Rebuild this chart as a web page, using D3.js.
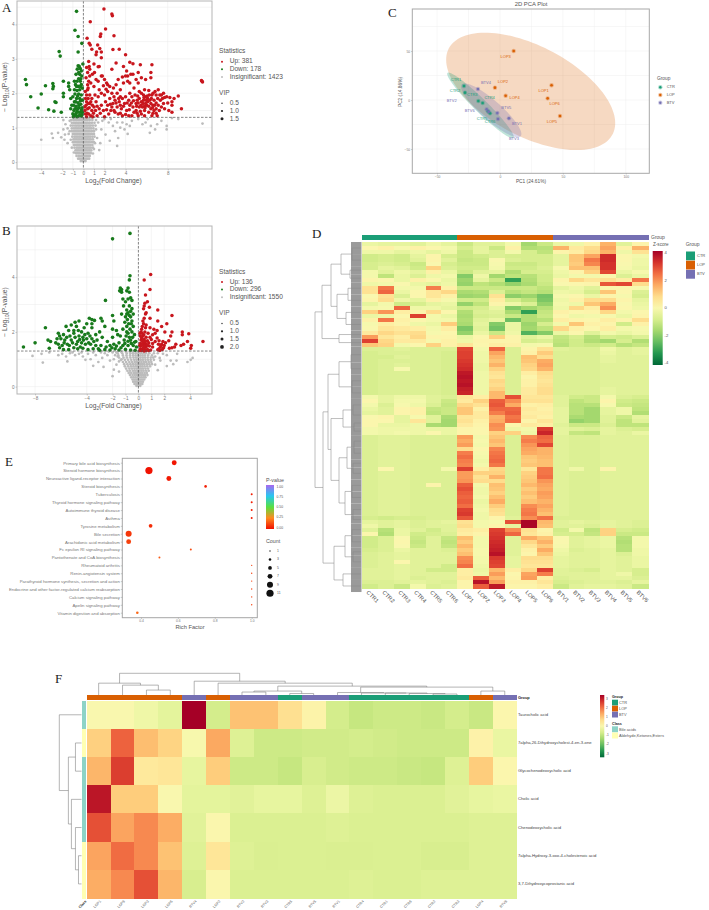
<!DOCTYPE html>
<html>
<head>
<meta charset="utf-8">
<script src="https://cdn.jsdelivr.net/npm/d3@7"></script>
<style>
  html, body { margin: 0; padding: 0; background: #fff; }
  svg { display: block; font-family: "Liberation Sans", Arial, sans-serif; }
  .letter { font-family: "Liberation Serif", serif; font-size: 13px; fill: #222; }
</style>
</head>
<body>
<div id="chart"></div>
<script>
// Panel A, volcano points [log2FC, -log10 p]
const upA = [[1.95,4.45],[2.7,4.3],[2.75,4.25],[.65,4.08],[2.1,3.87],[1.65,3.72],[1.6,3.65],[.35,3.6],[2.9,3.67],[.55,3.45],[.65,3.4],[1.35,3.4],[1.55,3.3],[1.7,3.2],[1.25,3.2],[.8,3.28],[2.8,3.27],[3.4,3.28],[4,3.12],[1.2,3.12],[1.7,3.03],
[3.1,2.88],[.5,2.92],[1,2.85],[.55,2.78],[1.4,2.77],[1.5,2.78],[2.7,2.7],[.6,2.7],[3.8,2.78],[4.4,2.9],[4.7,2.86],[5.4,2.83],[6.5,2.83],[4.1,2.65],[4.7,2.55],[4.5,2.55],[6.4,2.6],[5.2,2.6],[5.5,2.45],[5.9,2.4],[6.4,2.45],[4,2.5],[4.2,2.5],[3.7,2.47],[4.2,2.35],[4.4,2.3],[5,2.4],[5.2,2.3],[.4,2.6],[.6,2.5],[.5,2.35],[.85,2.55],[1.2,2.4],[1.7,2.5],[1.8,2.5],[2,2.4],[2.2,2.3],[2.5,2.2],[2.3,2.25],[.4,2.25],[.7,2.3],[1,2.2],[1.4,2.35],[3.1,2.25],[3.5,2.1],[3.8,2.3],[4.4,2],[4.8,2.15],[5.3,2.05],[5.8,2.1],[6.2,2.08],[6.6,2],[6.9,1.95],[7.1,2.1],[7.4,1.95],[7.6,2],[7.9,1.9],[8.2,1.88],[8.6,1.85],[9,1.92],[8.4,1.75],[8.4,1.65],[9.3,1.55],[8.4,1.45],[8.1,1.5],[7.6,1.7],[7.4,1.6],[7.2,1.5],[6.9,1.55],[6.9,1.42],[7,1.35],[6.6,1.65],[6.4,1.55],[6.3,1.8],[6.1,1.85],[5.9,1.9],[5.7,1.8],[5.5,1.75],[5.3,1.85],[5.1,1.8],[5,1.7],[5.3,1.6],[5.6,1.6],[5.8,1.5],[6,1.65],[6.2,1.45],[6.5,1.35],[5.5,1.4],[5.2,1.35],[5,1.5],[4.7,1.6],[4.4,1.65],[4.1,1.5],[4.3,1.35],[3.9,1.7],[3.6,1.55],[3.4,1.75],[3.2,1.6],[3,1.8],[2.9,1.5],[2.7,1.6],[2.5,1.85],[2.3,1.65],[2.1,1.75],[1.9,1.5],[1.7,1.65],[1.5,1.55],[1.2,1.75],[1,1.6],[.8,1.5],[.6,1.7],[.4,1.55],[.3,1.75],[.2,1.4],[.5,1.4],[.7,1.35],[.3,1.95],[.6,1.95],[.8,1.85],[1.1,1.95],[1.4,1.9],[1.7,2],[2,1.95],[2.3,2.05],[2.7,2],[2.9,1.9],[3.2,2],[3.5,1.9],[3.7,1.85],[4,1.9],[4.3,1.8],[4.6,1.9],[3,1.45],[3.3,1.4],[3.7,1.35],[2.4,1.4],[1.3,1.35],[2,1.32],[4.6,1.35],[3.5,1.65],[2.8,1.7],[2.6,1.5],[4.8,1.45],[5.9,1.7],[6.7,1.8],[6.5,1.95],[7.3,1.8],[5.5,2],[4.9,1.95],[5.7,1.95],[6.1,1.75],[6.4,1.7],[5.8,1.62],[5.2,1.72],[6.9,1.72],[7.1,1.65],[6.7,1.5],[.3,1.32],[.15,1.6],[.2,1.85],[.9,1.32],[.45,1.7],[11.2,2.37],[11.3,2.33],[11.25,2.35]];
const upA2 = [[.15,1.5],[.25,1.65],[.35,1.42],[.45,1.85],[.55,1.58],[.7,1.75],[.85,1.65],[.95,1.42],[1.15,1.5],[1.3,1.62],[.18,2.05],[.4,2.1],[.25,2.45],[.3,2.75],[.45,2.15],[1.05,2.6],[1.5,2.1],[1.9,2.22],[2.15,2.12],[2.55,1.68],[2.85,2.15],[3.3,2.4],[3.35,1.85],[3.8,1.62],[4.15,1.72],[4.35,1.52],[4.55,1.72],[4.75,1.78],[5.05,1.62],[5.15,1.92],[5.45,1.65],[5.65,1.7],[5.75,1.88],[5.85,1.58],[5.95,1.8],[6.05,1.92],[6.2,1.62],[6.25,1.95],[6.45,1.85],[6.55,1.58],[6.6,1.42],[6.75,1.65],[6.8,2.05],[7.05,1.85],[7.25,1.95],[7.5,1.85],[7.7,1.88],[2.2,1.52],[1.6,1.42],[3.1,1.72],[3.5,1.42],[4,1.38],[5.8,1.35],[5.1,1.42],[5.4,1.48],[7.7,1.55],[8,1.72]];
const downA = [[-.65,4.38],[-.8,3.83],[-.5,3.65],[-.15,3.45],[-2.3,3.21],[-2.2,3.08],[-.5,3.2],[-.05,2.85],[-.5,2.8],[-.4,2.78],[-.3,2.72],[-.2,2.65],[-.35,2.55],[-.15,2.5],[-.45,2.42],[-.6,2.35],[-.3,2.35],[-.75,2.25],[-.5,2.2],[-.2,2.25],[-.85,2.1],[-.6,2.08],[-.35,2.1],[-.1,2.15],[-.8,1.98],[-.45,1.98],[-.2,1.95],[-1,1.9],[-.65,1.85],[-.35,1.85],[-.1,1.8],[-.85,1.75],[-.5,1.72],[-.25,1.68],[-1.1,1.65],[-.7,1.62],[-.4,1.58],[-.12,1.58],[-1.2,1.55],[-.9,1.5],[-.6,1.48],[-.3,1.45],[-.08,1.45],[-1,1.4],[-.75,1.36],[-.5,1.34],[-.2,1.34],[-.95,1.32],[-.35,1.36],[-.6,1.32],
[-5.5,2.4],[-5.4,2.25],[-5,1.9],[-4,1.98],[-3.6,2.22],[-2.9,2.28],[-2.85,2.2],[-2.9,2.13],[-4.3,1.57],[-3.3,1.52],[-2.7,1.75],[-2.6,1.73],[-2.8,1.48],[-2.1,1.45],[-1.9,1.9],[-1.9,2],[-1.9,2.35],[-1.4,2.3],[-1.4,2.2],[-1.2,1.85],[-1.3,2.1],[-.85,2.35],[-.7,2.55],[-.95,1.65],[-.55,1.55],[-.7,1.42],[-.42,1.45],[-.18,1.52],[-.8,1.55],[-.28,1.78],[-.55,1.92],[-.72,1.75],[-.42,1.65],[-.12,1.38],[-.65,2.2],[-.3,2.2],[-.45,2.6],[-.58,2.7],[-.25,2.42]];
const greyA = [[-4,.65],[-3,.83],[-2.4,.85],[-2.9,.7],[-2.1,.72],[-1.9,.95],[-1.8,.65],[-1.7,1.1],[-1.5,.55],[-1.9,1.22],[-1.4,.82],[-1.3,1.2],[-1.5,.98],[-1.75,.8],[1.4,1.15],[1.7,.95],[1.8,1.2],[2.1,.8],[2,1.25],[2.4,1.15],[2.8,1.05],[3,.9],[3.2,1.15],[3.3,.7],[3.5,1],[3.7,1.15],[3.9,.95],[4.1,1.1],[4.4,1.05],[4.6,1.2],[4.2,.82],[3.2,.47],[2.5,.62],[1.6,.55],[1.5,.35],[5.2,1.25],[5.6,1.1],[5.9,1.15],[6.1,1.25],[6.4,1.05],[6.3,.85],[6.8,.95],[7,1.1],[7.4,1.2],[7.9,1.05],[7.9,.95],[8.4,1.28],[9,1.25],[11.3,1.12],[2.6,1.25],[1.2,.95],[1.3,.7],[1.1,.55],[-1.2,.65],[-1.3,.9],[-1.1,.42],[1,.38],[.9,.25],[-.9,.28]];
const greyRowsA = [[.03,-.25,-.1,.05,.2],[.1,-.5,-.35,-.2,-.05,.1,.25,.4,.55],[.18,-.65,-.45,-.3,-.15,0,.15,.3,.45,.6],[.26,-.7,-.55,-.4,-.2,-.05,.1,.25,.4,.55,.7],[.34,-.75,-.6,-.45,-.3,-.15,0,.15,.3,.45,.6,.75],[.42,-.85,-.65,-.5,-.35,-.2,-.05,.1,.25,.4,.55,.7,.9],[.5,-.9,-.7,-.55,-.4,-.25,-.1,.05,.2,.35,.5,.65,.85],[.58,-1,-.8,-.6,-.45,-.3,-.15,0,.15,.3,.45,.6,.8,1],[.66,-.95,-.8,-.65,-.5,-.35,-.2,-.05,.1,.25,.4,.55,.7,.9],[.74,-1.05,-.85,-.7,-.55,-.4,-.25,-.1,.05,.2,.35,.5,.65,.85,1.05],[.82,-1,-.85,-.7,-.55,-.4,-.25,-.1,.05,.2,.35,.5,.65,.8,1],[.9,-1.1,-.9,-.75,-.6,-.45,-.3,-.15,0,.15,.3,.45,.6,.8,1],[.98,-1.1,-.9,-.75,-.6,-.45,-.3,-.15,0,.15,.3,.45,.6,.75,.95],[1.06,-1.2,-1,-.8,-.65,-.5,-.35,-.2,-.05,.1,.25,.4,.55,.7,.9,1.15],[1.14,-1.1,-.9,-.75,-.6,-.45,-.3,-.15,0,.15,.3,.45,.6,.8,1.05],[1.22,-1.15,-.95,-.8,-.65,-.5,-.35,-.2,-.05,.1,.25,.4,.6,.85,1.2],[1.28,-.95,-.75,-.6,-.45,-.3,-.15,0,.15,.35,.55,.8]];

// Panel B, volcano points
const upB = [[.95,4.1],[.45,3.9],[.9,3.55],[.55,3.35],[.7,3.1],[.5,3.05],[.45,2.95],[.4,2.85],[.85,2.9],[1.5,2.8],[.6,2.7],[.55,2.65],[2.6,2.6],[.45,2.5],[.9,2.5],[1.5,2.4],[1.8,2.2],[2.2,2.3],[.4,2.3],[.3,2.2],[.6,2.25],[.25,2.1],[.9,2.15],[1.2,2.1],[1.45,2.05],[2.05,2],[.2,2],[.5,2],[.75,1.95],[1.1,1.9],[1.3,1.95],[2.6,2],[2.5,1.85],[3.4,2],[3.4,1.9],[3.9,1.93],[.15,1.85],[.35,1.85],[.6,1.8],[.9,1.8],[.2,1.7],[.45,1.72],[.7,1.68],[1,1.72],[1.3,1.65],[1.6,1.68],[1.9,1.65],[2.35,1.68],[2.1,1.6],[5,1.65],[3.8,1.65],[4.1,1.5],[4.05,1.4],[3.5,1.55],[3.3,1.5],[2.9,1.55],[2.4,1.4],[2.6,1.42],[2.8,1.45],[.15,1.58],[.35,1.6],[.55,1.58],[.8,1.6],[1.1,1.58],[1.55,1.55],[1.8,1.55],[2,1.5],[.2,1.48],[.4,1.5],[.6,1.46],[.85,1.48],[1.1,1.45],[1.7,1.45],[1.95,1.42],[1.6,1.38],[1.85,1.36],[.15,1.38],[.3,1.36],[.5,1.36],[.7,1.36],[.95,1.34],[1.65,1.32],[.25,1.32],[.6,1.32],[.4,1.42],[.12,1.95],[.28,1.95],[.42,1.9],[.25,1.78],[.3,1.68],[.5,1.65],[.1,1.5],[.25,1.52],[.5,1.5],[.7,1.52],[.45,1.3],[.1,1.32],[.8,1.32],[.35,2.4],[.55,2.15],[1.45,1.78],[1.5,1.35],[1.75,1.5]];
const downB = [[-.65,5.6],[-2,5.4],[-.65,4.05],[-.7,3.9],[-.8,3.6],[-1.3,3.55],[-1.4,3.6],[-1.45,3.5],[-1.3,3.45],[-2.55,3.15],[-.9,3.5],[-.7,3.45],[-.6,3.25],[-.8,3.2],[-1,3.1],[-1.2,3.2],[-.5,3.15],[-1.15,2.95],[-.7,2.95],[-2,2.6],[-.5,2.85],[-.9,2.8],[-.6,2.75],[-.8,2.7],[-.4,2.65],[-.7,2.6],[-1,2.55],[-1.3,2.65],[-1.9,2.4],[-2.9,2.5],[-2.8,2.4],[-.85,2.45],[-.5,2.4],[-1.05,2.35],[-3.8,2.5],[-3.6,2.45],[-3.4,2.42],[-4.6,2.4],[-4.9,2.35],[-5.2,2.25],[-4,2.3],[-3.6,2.3],[-.9,2.2],[-.4,2.2],[-1.2,2.1],[-2,2.1],[-2.6,2.2],[-3,2],[-3.6,2.15],[-4.2,2.15],[-4.8,2.2],[-5.6,2.2],[-5.4,2.05],[-7.2,2.15],[-6.2,1.95],[-5.8,1.9],[-5,2.05],[-4.4,2],[-3.9,1.95],[-3.3,1.9],[-2.8,1.8],[-1.6,1.9],[-1.4,1.85],[-.8,1.95],[-.3,1.9],[-8,1.6],[-8.9,1.45],[-7,1.7],[-6.8,1.65],[-6.9,1.4],[-6.4,1.6],[-6,1.75],[-6.1,1.85],[-5.7,1.7],[-5.3,1.85],[-4.9,1.8],[-4.6,1.85],[-4.3,1.8],[-4,1.75],[-3.6,1.75],[-3.2,1.7],[-2.4,1.65],[-2,1.8],[-1.1,1.7],[-.6,1.7],[-.2,1.65],[-6.2,1.55],[-5.9,1.5],[-5.5,1.55],[-5.1,1.6],[-4.7,1.65],[-4.4,1.6],[-4.1,1.55],[-3.7,1.55],[-3.3,1.5],[-2.9,1.5],[-2.5,1.45],[-2.2,1.5],[-1.9,1.55],[-1.5,1.6],[-1.2,1.5],[-.8,1.5],[-.4,1.5],[-.15,1.45],[-5.8,1.35],[-5.4,1.35],[-5,1.42],[-4.7,1.38],[-4.3,1.4],[-3.9,1.35],[-3.5,1.38],[-3,1.33],[-2.6,1.35],[-2.2,1.34],[-1.8,1.38],[-1.5,1.34],[-1,1.36],[-.6,1.34],[-.25,1.33],[-6.1,1.42],[-3.1,1.38],[-1.35,1.42],[-.8,1.66],[-.5,2],[-5.55,1.8],[-5.2,1.7],[-5,1.95],[-4.8,1.55],[-4.55,1.72],[-4.65,2.05],[-4.25,1.7],[-4.15,1.9],[-3.85,1.6],[-3.75,1.85],[-3.45,1.65],[-5.35,1.5],[-5.75,1.6],[-6.3,1.75],[-4.5,1.45],[-2.05,1.42],[-1.7,1.48],[-1.05,1.58],[-.95,1.85],[-.7,1.8],[-.45,1.8],[-.55,1.58],[-.3,1.62],[-.9,2],[-.65,2.1],[-.55,2.3],[-.75,2.3],[-1.7,2.05],[-.6,2.55],[-.9,2.65]];
const greyB = [[-8.2,1.12],[-7.4,.88],[-7.5,1.2],[-6.9,1.25],[-6.2,1.15],[-5.9,1.2],[-5.6,1.1],[-5.5,.92],[-5.1,1.25],[-4.6,1.2],[-4.3,1.1],[-4.1,.98],[-3.9,1.2],[-3.7,1],[-3.5,.76],[-3.3,1.15],[-3.1,.9],[-2.9,1.25],[-2.8,1.05],[-2.7,.72],[-2.4,1.15],[-2.2,.95],[-2,.38],[-1.9,.62],[-1.8,1.15],[-1.7,.8],[-1.5,.55],[-1.3,1],[-1.5,.92],[-2,1.25],[1.3,.8],[1.5,.6],[1.7,.95],[1.9,1.2],[2.2,.75],[2.5,.95],[2.7,.82],[2.95,.95],[3,1.2],[3.8,.9],[4.05,.98],[4.2,1.05],[1.3,1.1],[2.2,1.15],[-5.3,1.22],[-4.9,1.15],[-4.4,1.25],[-3.5,1.25],[-2.6,1.22],[-2.3,1.28],[-1.9,1],[-1.7,1.25],[1.5,1.22],[1.65,1.05],[-1.6,1.1]];
const greyRowsB = [[.03,-.15,0,.15],[.1,-.3,-.15,0,.15,.3],[.18,-.4,-.25,-.1,.05,.2,.35],[.26,-.45,-.3,-.15,0,.15,.3,.45],[.34,-.55,-.38,-.22,-.06,.1,.26,.42,.55],[.42,-.65,-.45,-.28,-.12,.04,.2,.36,.52,.7],[.5,-.75,-.55,-.35,-.18,-.02,.14,.3,.48,.65],[.58,-.85,-.65,-.42,-.25,-.08,.08,.24,.4,.6,.8],[.66,-.95,-.7,-.5,-.3,-.12,.04,.2,.36,.55,.75],[.74,-1.05,-.8,-.58,-.38,-.2,-.03,.14,.3,.48,.68,.9],[.82,-1.1,-.85,-.62,-.42,-.22,-.05,.12,.28,.45,.65,.85,1.05],[.9,-1.2,-.95,-.7,-.48,-.28,-.1,.07,.24,.42,.6,.8,1],[.98,-1.35,-1.05,-.8,-.55,-.32,-.15,.02,.18,.35,.55,.75,.95,1.2],[1.06,-1.5,-1.15,-.88,-.62,-.38,-.18,0,.17,.35,.52,.72,.95,1.15],[1.14,-1.55,-1.2,-.92,-.65,-.42,-.22,-.03,.15,.32,.5,.75,1.05],[1.22,-1.6,-1.25,-.9,-.62,-.4,-.2,0,.2,.4,.6,.85,1.2],[1.28,-1.35,-.98,-.68,-.45,-.22,0,.18,.38,.58,.82]];

// Panel C, PCA scores
const pcaSamples = ["LOP1","LOP2","LOP3","LOP4","LOP5","LOP6","CTR1","CTR2","CTR3","CTR4","CTR5","CTR6","BTV1","BTV2","BTV3","BTV4","BTV5","BTV6"];
const pc1 = [41,-4,10.9,4.5,47.7,37.9,-28.6,-27.8,-17.2,-13.8,-7.9,-9.5,7.1,-10.6,-1.6,-17.5,-2.1,-9];
const pc2 = [15,12.6,50,4.4,-16.3,1.7,14.3,7.5,-1,-3,-13.6,-11.5,-18.7,-9.5,-19.4,11.2,-13.3,-12];
// [cx, cy, sdx, sdy, rho]
const ellipseLOP = [24.4,8.8,67.2,59.9,-.54];
const ellipseCTR = [-15.5,-5.5,26.5,33.5,-.96];
const ellipseBTV = [-7,-10.5,24,27.5,-.88];
const pcaGroups = ["CTR","LOP","BTV"];
const groupColors = ["#1b9e77","#d95f02","#7570b3"];

// Panel D, z-scores: CTR1-6, LOP1-6, BTV1-6
const heatSamples = ["CTR1","CTR2","CTR3","CTR4","CTR5","CTR6","LOP1","LOP2","LOP3","LOP4","LOP5","LOP6","BTV1","BTV2","BTV3","BTV4","BTV5","BTV6"];
const heatRows = [
[-.4,-.5,-.5,-.6,-.3,-.5,-1,-.6,-.6,-.2,-1.6,-1,-.4,-.3,.3,1.5,-.6,.2],
[.1,.3,-.1,.3,.1,-.2,-.8,-.5,-1,.3,-1.4,-1.3,1.5,.5,.8,1.7,.3,1.5],
[-.3,-.3,-.5,-.3,-.5,-.3,-1,-.5,-.7,-.2,-.8,-1.2,.2,.4,.9,1.5,-.3,.7],
[-.9,-.8,-.9,-.5,.2,-.8,-1,-.9,-.7,-.8,-.8,-.8,-.5,1.2,1.7,3.3,.1,-.2],
[-.9,-.8,-.9,-.6,.2,-.6,-1.1,-1,0,-.7,-.8,-.8,-.5,1.2,2.3,3.3,.1,-.3],
[-.8,-.7,-.8,-1,0,-.8,-1,-1,-.1,-1,-1,-.8,-.5,1.1,2.1,3.2,0,-.3],
[-.8,-.5,-.6,-.9,1,-.7,-.9,-.9,-.2,-.9,-.9,-.7,-.1,1.3,1.3,3.2,-.1,-.4],
[-.2,-.6,-.3,-.5,.3,-.4,-1,-.6,-.5,-1.4,-.8,-.8,-.3,.2,1,2.9,-.4,-.1],
[-.2,-1.2,-.4,-.7,-.3,-.2,-2,-.3,-1.6,-1.2,-1.3,-.9,-.4,-.2,-.2,.1,-.7,-.4],
[.2,.1,-.4,.3,.1,-.4,-1.7,-.5,-1,-3,-1.4,-.9,.2,.9,.6,.7,.4,2.3],
[-.3,-.2,0,-.4,-.5,-.3,-1.8,-1.2,-1.4,-1.8,-1.5,-1,0,.1,.2,2.7,2.9,.8],
[.7,2.3,-.2,-.2,2.2,.3,-1,-1,-1,-1,-1,-1.2,-.5,-.3,-.6,.1,.1,-.1],
[.7,2.5,-.4,.1,.6,.9,-1.5,-1.4,-.7,-1.3,-1.1,-1.3,-.3,-.4,-.8,1.2,.1,-.7],
[0,.7,-.7,.1,.6,.3,-1.7,-1.6,.7,-1.9,-1.7,-2.2,-.1,.1,-.4,.2,-.1,-.8],
[.2,.8,-.3,-.5,.3,-.1,-.9,-.9,.4,-.8,-1.2,-2.1,-.3,.3,.8,.8,.2,-.5],
[-.5,-.2,-.9,-.8,-.5,-.4,-1.8,-1.2,.2,-.3,-.7,-1.8,-.2,-.3,1.2,1.6,0,-.4],
[-.2,-.1,2.5,-.3,-.3,-.5,-.9,-.8,-.4,-2,-1.6,-1.3,-.3,.9,.4,2,.1,-.3],
[1,1.9,.4,.2,.8,.1,-1.4,-.7,-.6,-1.5,-3,-1.1,.3,.1,.2,.9,-.2,.1],
[-.4,-.3,.1,3,-.2,-.4,-1.5,-.8,-.7,-1,-1.4,-1,.1,-.3,-.2,-.1,-.4,.2],
[.3,2.3,.3,.1,-.2,-.2,-1.4,-.6,-.4,-2.3,-1.4,-1.3,.4,.2,.1,.4,.2,.8],
[-.1,.4,.2,-.3,-.4,1.1,-1.5,-.5,-2,-.4,-1.7,-.8,-.2,1.2,.3,.2,-.9,.3],
[0,.6,.5,.4,-.2,.4,-2.1,-.6,-2.2,-.4,-1.6,-1.2,.9,.3,.1,.4,-.2,-.1],
[.5,.9,.7,.8,-.1,.1,-1.8,-.4,-1,-.3,-2.6,-2,-.4,.1,-.6,-.2,-.4,-.2],
[1.8,.6,.4,.9,.2,.2,-.4,.1,1,.2,-.6,-.4,-1.1,-.8,-1.3,-.8,-.9,-.7],
[3,.9,.5,.5,-.1,.3,-.3,.2,.2,.2,-.8,-.7,-1.2,-.9,-1.4,-1.6,-.8,-1.4],
[1.2,1,-.2,.1,1,.3,.6,.1,.4,.3,-.2,-.1,-1.3,-.9,-1,-.9,-1.3,-1.1],
[-.7,-.7,-.6,-.7,-.7,-.7,2.9,-.2,2.5,-.7,.2,.7,-.6,-.7,-.7,-.3,-.6,-.5],
[-.8,-.7,-.7,-.7,-.7,-.8,3,-.3,1.7,-.7,.3,1.1,-.7,-.7,-.7,-.4,-.6,-.5],
[-.8,-.8,-.6,-.7,-.7,-.8,3,-.3,1.4,-.7,1.3,.8,-.7,-.7,-.7,-.5,-.6,-.6],
[-.8,-.7,-.7,-.7,-.7,-.8,3.1,-.3,1.2,-.7,1.2,1.6,-.7,-.7,-.7,-.5,-.6,-.6],
[-.8,-.7,-.6,-.7,-.7,-.8,3.2,-.4,1.5,-.7,1,1.7,-.7,-.7,-.7,-.6,-.6,-.6],
[-.8,-.7,-.1,-.7,-.7,-.8,3.3,-.4,1,-.7,.9,1.5,-.7,-.7,-.7,-.6,-.6,-.6],
[-.8,-.7,-.7,-.7,-.7,-.8,3.6,-.3,.7,-.7,.4,.8,-.7,-.7,-.7,-.6,-.6,-.6],
[-.8,-.7,-.7,-.7,-.7,-.8,3.7,-.3,.6,-.7,.2,.7,-.7,-.7,-.7,-.6,-.6,-.6],
[-.8,-.7,-.7,-.7,-.7,-.8,3.6,-.3,.9,-.7,.3,.6,-.7,-.7,-.7,-.6,-.6,-.6],
[-.8,-.7,-.7,-.7,-.7,-.8,3.7,-.3,.8,-.7,.3,.7,-.7,-.7,-.7,-.6,-.6,-.6],
[-.8,-.7,-.7,-.7,-.7,-.8,3.5,-.3,1,-.7,.5,.8,-.7,-.7,-.7,-.5,-.6,-.6],
[-.8,-.7,-.7,-.7,-.7,-.8,3.4,-.3,1.4,-.7,.5,.8,-.7,-.7,-.7,-.5,-.6,-.6],
[-.2,-.5,-.3,-.3,-.6,-.7,.6,.4,1.4,2.8,.6,.6,-.6,-.9,-1,-.2,-.7,-.8],
[.1,-.5,-.2,-.2,-.6,-1,.5,1,2.6,2,.7,.7,-.6,-1.2,-1,.2,-.9,-1],
[-.2,-.7,-.1,-.3,-.7,-1.1,.9,.7,2.7,1.6,.3,.4,-.6,-1.3,-1.3,-.1,-1,-1.1],
[-.4,-.6,.2,.3,-1.1,-1,1.2,.3,2.5,2.5,.5,.3,-.5,-1.3,-1.6,-.5,-.3,-1.2],
[-.5,-.6,.2,.3,-1.2,-1,1.2,.5,2.2,2.6,.4,.4,-.5,-1.3,-1.6,-.5,-.3,-1.4],
[0,.2,-.5,-.1,-.6,-1.5,.6,.5,1.5,2.3,.5,.3,-.5,-1.5,-1.6,-.6,-1,-.5],
[.1,.1,-.5,.6,-.6,-1.6,.7,.3,1.6,2.4,.2,.6,-.5,-1.8,-1.6,-.6,-1.2,-.6],
[.1,-.4,-.4,-.3,-1.5,-1.6,.5,.2,2,.1,.5,.4,-.6,-1,-1,-.7,-1.2,-1.2],
[-.2,-.3,-.3,-.3,-.4,-.4,.2,.1,1.9,-.3,-.2,3.1,-.5,-.6,-.7,-.5,-.7,-.8],
[-.2,-.3,-.2,-.3,.1,-.4,.2,.1,1,1,-.3,3.4,-.5,-1.1,-1.2,-.5,-.6,-.4],
[-.7,-.6,-.6,-.7,-.7,-.7,1.8,-.2,1.2,-.7,2,2.5,-.6,-.7,-.7,-.6,-.6,-.6],
[-.7,-.6,-.6,-.7,-.7,-.7,1.6,-.1,1.4,-.7,2.2,2.4,-.6,-.7,-.7,-.6,-.6,-.6],
[-.7,-.6,-.6,-.7,-.7,-.7,1.8,-.2,1.2,-.7,1.9,2.9,-.6,-.7,-.7,-.6,-.6,-.6],
[-.7,-.6,-.6,-.7,-.7,-.7,.8,.1,2.1,-.7,1.7,1.5,-.6,-.7,-.7,-.6,-.6,-.6],
[-.7,-.6,-.6,-.7,-.7,-.7,2.2,-.1,2.3,-.7,1.6,1.5,-.6,-.7,-.7,-.6,-.6,-.6],
[-.7,-.6,-.6,-.7,-.7,-.7,2.4,-.2,2.4,-.7,1.2,1.4,-.6,-.7,-.7,-.6,-.6,-.6],
[-.7,-.6,-.6,-.7,-.7,-.7,2.2,-.3,2.5,-.7,1.1,1.3,-.6,-.7,-.7,-.6,-.6,-.6],
[-.7,-.6,-.6,-.7,-.7,-.7,2.1,-.2,2.3,-.7,1.2,1.3,-.6,-.7,-.7,-.6,-.6,-.6],
[-.7,.1,-.6,-.7,-.7,-.2,3,.4,.9,-.7,.6,2.3,-.6,-.3,-.7,.2,-.6,-.6],
[-.7,-.6,-.6,-.7,-.7,-.7,1.8,1,1,-.7,1,2.3,-.6,-.7,-.7,-.6,-.6,-.6],
[-.7,-.6,-.6,-.7,-.7,-.7,1.8,.7,1.5,-.7,1.1,2.4,-.6,-.7,-.7,-.6,-.6,-.6],
[-.7,-.6,-.6,-.7,-.7,-.7,1.9,.8,.8,-.7,1.2,1.9,-.6,-.7,-.7,-.6,-.6,-.6],
[-.7,-.6,-.6,-.7,.2,-.7,2.6,-.2,1.3,-.7,1.4,1.7,-.6,-.7,-.7,-.6,-.6,-.6],
[-.7,-.6,-.6,-.7,-.7,-.7,2.8,-.3,1.2,-.7,1.1,1.6,-.6,-.7,-.7,-.6,-.6,-.6],
[-.7,-.6,-.6,-.7,-.7,-.7,2.6,-.3,1,-.7,1.3,1.8,-.6,-.7,-.7,-.6,-.6,-.6],
[-.7,-.6,-.6,-.7,-.7,-.7,2.5,-.2,1.3,-.7,1.1,1.7,-.6,-.7,-.7,-.6,-.6,-.6],
[-.7,-.6,-.6,-.7,-.7,-.7,2.6,-.4,1.6,-.7,1.3,1.5,-.6,-.7,-.7,-.6,-.6,-.6],
[-.7,-.6,-.6,-.7,-.7,-.7,2.4,-.3,1.1,-.7,2,1.7,-.6,-.7,-.7,-.6,-.6,-.6],
[-.7,-.6,-.6,-.7,-.7,-.7,3,-.2,.8,-.7,2.2,1.5,-.6,-.7,-.7,-.6,-.6,-.6],
[-.7,-.6,-.6,-.7,-.7,-.7,3.1,-.3,.7,-.7,2.3,1.3,-.6,-.7,-.7,-.6,-.6,-.6],
[-.8,-.9,-.8,-.8,-.7,-.7,2.7,-.3,.2,-.6,2,2.4,-.7,-.7,-.7,-.6,-.6,-.6],
[-.5,-.6,-.5,-.7,-.6,-.5,.7,-.2,-.1,2.8,3.9,1.4,-.6,-.5,-.6,-.5,-.6,-.7],
[-.3,-.6,-.5,-.7,-.6,-.6,.8,-.2,.2,-.5,3.9,1.3,-.6,-.6,-.7,-.5,-.6,-.7],
[-.6,-1.3,-.4,-.6,-.9,-.6,.5,.4,3,2,.7,.2,-.9,-.2,-1.2,1,-.8,-.9],
[.1,-1.4,-.4,-.9,-.8,-.7,.4,.2,3.1,2.5,.6,.3,-.8,-.8,-1.1,1,-1,-1],
[-.9,-.7,0,-1,-.6,-1.1,1.3,-.2,3.2,-.6,1.6,1.2,0,-.6,-.5,-.4,-1.3,-.2],
[-.9,-.7,.1,-1.1,-.6,-1.2,1.1,-.2,3.3,-.6,.9,1.5,0,-.6,-.5,-.4,-1.4,-.2],
[-.9,-.7,0,-1,-.6,-1.1,1.4,-.2,3.4,-.6,.6,1.1,-.1,-.6,-.5,-.4,-1.3,-.2],
[-.8,-.7,-.4,-.6,-.6,-.7,1.1,-.1,3.5,-.6,.3,1.6,-.3,-.7,-.6,-.5,-1.3,-.3],
[-.7,-.6,-.5,-.6,-.6,-.6,1.3,-.1,3.7,-.6,.2,1.2,-.4,-.6,-.6,-.5,-.7,-.3],
[-.7,-.6,-.5,-.6,-.6,-.6,2,-.2,3.1,-.5,.8,.8,-.5,-.6,-.6,-.5,-.6,-.4],
[-.7,-.6,.1,-.6,-.6,-.6,2.1,-.2,3,-.5,.7,.7,-.5,-.6,-.6,-.5,-.6,-.4],
[-.7,-.6,-.5,-.6,-.6,-.9,2.4,-.3,2.9,-.5,.6,.6,-.5,-.6,-.6,-.5,-.6,-.4],
[-.6,-.6,-.5,-.6,-.9,-.9,.4,-.4,1.4,.4,.9,3,-.6,-.7,-.8,-.5,-.6,-.8],
[-.6,-.6,-.5,-.6,-.6,-.6,.4,-.3,1.8,.1,1.7,2.2,-.6,-.6,-.6,-.5,-.3,-.8],
[-.6,-.6,-.5,-.7,-.6,-.6,.5,2.6,1.4,.2,1.8,.4,-.7,-.6,-.6,-.5,-.5,-.7],
[-.7,-.7,-.6,-.5,-.6,-.7,.2,3.7,1.8,.3,.3,.6,-.8,-.7,-.6,-.6,-.7,-.5],
[-.9,-.7,-1,-.2,-.7,-.6,.2,2.6,3.6,.2,.2,.4,-1,-.6,-.5,-.5,-.6,-1]
];
// nested [height, child, child]; a plain number is a block of that many rows
const heatTree = [46,
  [39,[30,[20,[9,3,3],[11,2,2]],[24,[13,3,3],[15,3,3]]],[22,2,2]],
  [38,[33,[22,[10,4,3],[9,3,3]],[30,[18,[8,3,2],[7,2,2]],[22,[14,[7,3,3],[8,2,3]],[16,[9,3,3],[8,3,2]]]]],
      [27,[16,[9,3,3],[8,2,3]],[18,3,3]]]];

// Panel E, enrichment
const pathways = ["Primary bile acid biosynthesis","Steroid hormone biosynthesis","Neuroactive ligand-receptor interaction","Steroid biosynthesis","Tuberculosis","Thyroid hormone signaling pathway","Autoimmune thyroid disease","Asthma","Tyrosine metabolism","Bile secretion","Arachidonic acid metabolism","Fc epsilon RI signaling pathway","Pantothenate and CoA biosynthesis","Rheumatoid arthritis","Renin-angiotensin system","Parathyroid hormone synthesis, secretion and action","Endocrine and other factor-regulated calcium reabsorption","Calcium signaling pathway","Apelin signaling pathway","Vitamin digestion and absorption"];
const richFactor = [.58,.443,.551,.75,1,1,1,1,.452,.333,.333,.67,.5,1,1,1,1,1,1,.38];
const pathCount = [7,11,7,3,2,2,2,2,5,9,7,2,2,1,1,1,1,1,1,3];
const pathP = [.01,.005,.02,.03,.03,.03,.03,.03,.06,.08,.1,.12,.15,.1,.1,.1,.1,.1,.1,.18];
const countTicks = [1,3,5,7,9,11];
const pTicks = [0,.25,.5,.75,1];

// Panel F
const metabolites = ["Taurocholic acid","7alpha,26-Dihydroxycholest-4-en-3-one","Glycochenodeoxycholic acid","Cholic acid","Chenodeoxycholic acid","7alpha-Hydroxy-3-oxo-4-cholestenoic acid","3,7-Dihydroxycoprostanic acid"];
const metaClass = [0,1,0,0,0,1,1];
const classNames = ["Bile acids","Aldehyde,Ketones,Esters"];
const classColors = ["#8dd3c7","#ffffb3"];
const metaSamples = ["LOP1","LOP6","LOP3","LOP5","BTV4","LOP2","BTV2","BTV3","CTR5","BTV5","BTV1","CTR4","CTR1","CTR6","CTR2","CTR3","LOP4","BTV6"];
const metaRows = [
[.02,.02,-.25,-.45,3.3,-.7,1.05,1.05,.6,.2,-.7,-.9,-.8,-.8,-.85,-.7,-.85,.1],
[.85,2.1,1.1,.8,-.05,1.35,-.55,-.8,-.8,-.75,-.75,-.7,-.75,-.8,-.8,-.8,.22,-.35],
[1.2,2.5,.45,.5,-.4,.9,-.8,-.8,-.9,-.65,-.75,-.8,-.8,-.85,-.9,-.55,.9,.1],
[3,.9,.9,.02,-.45,-.45,-.5,-.4,-.4,-.55,-.3,-.55,-.6,-.6,-.6,-.5,-.4,-.35],
[2.3,1.4,1.7,1.3,-.5,.05,-.6,-.6,-.6,-.6,-.55,-.6,-.6,-.6,-.6,-.6,-.55,-.55],
[1.4,2,1.7,1.05,-.55,.5,-.55,-.62,-.6,-.6,-.62,-.62,-.6,-.6,-.65,-.65,-.55,-.55],
[1.3,1.7,2.3,1.2,-.65,.05,-.6,-.6,-.6,-.6,-.6,-.55,-.6,-.6,-.55,-.55,-.55,-.55]
];
const metaColTree = [22,
  [12,0,[10,1,[5,2,3]]],
  [14,4,[12,5,[9,
    [4,[3,6,7],[1.5,8,9]],
    [8,[2.5,10,[2,11,[2,12,[1.5,13,[1,14,15]]]]],[4,16,17]]]]]];
const metaRowTree = [22,0,[13,[6,1,2],[10,3,[6,4,[3,5,6]]]]];

// ---- helpers
const width = 709, height = 910;
const svg = d3.select("#chart").append("svg").attr("width", width).attr("height", height);
const defs = svg.append("defs");
const txtCol = "#555";

function addText(g, x, y, s, size, opts = {}) {
  return g.append("text").attr("x", x).attr("y", y).text(s)
    .attr("font-size", size).attr("fill", opts.fill || txtCol)
    .attr("font-weight", opts.bold ? "bold" : null)
    .attr("text-anchor", opts.anchor || "start")
    .attr("dominant-baseline", "middle");
}

function panelLetter(s, x, y) {
  svg.append("text").attr("class", "letter").attr("x", x).attr("y", y).text(s);
}

// Log2(Fold Change) and -Log10(P-value) need subscripts
function subLabel(g, x, y, before, sub, after, size, rotate) {
  const t = g.append("text").attr("font-size", size).attr("fill", txtCol).attr("text-anchor", "middle")
    .attr("transform", `translate(${x},${y})` + (rotate ? " rotate(-90)" : ""));
  t.append("tspan").text(before);
  t.append("tspan").text(sub).attr("font-size", size * .7).attr("dy", size * .3);
  t.append("tspan").text(after).attr("dy", -size * .3);
}

function styleAxis(g, size) {
  g.select(".domain").remove();
  g.selectAll(".tick line").attr("stroke", "#999").attr("stroke-width", .5);
  g.selectAll(".tick text").attr("font-size", size).attr("fill", "#777").attr("font-family", "Liberation Sans");
}

function volcano(cfg) {
  const g = svg.append("g");
  const x = d3.scaleLinear().domain(cfg.xDomain).range(cfg.xRange);
  const y = d3.scaleLinear().domain(cfg.yDomain).range(cfg.yRange);
  const [x0, x1] = cfg.xRange, [y1, y0] = cfg.yRange;

  cfg.xTicks.forEach(v => g.append("line").attr("x1", x(v)).attr("x2", x(v)).attr("y1", y0).attr("y2", y1).attr("stroke", "#ebebeb").attr("stroke-width", .5));
  d3.range(0, cfg.yDomain[1], cfg.yMinor).forEach(v =>
    g.append("line").attr("x1", x0).attr("x2", x1).attr("y1", y(v)).attr("y2", y(v)).attr("stroke", "#ebebeb").attr("stroke-width", .5));

  const allGrey = cfg.grey.concat(cfg.greyRows.flatMap(r => r.slice(1).map(v => [v, r[0]])));
  g.selectAll(".grey").data(allGrey).join("circle").attr("cx", d => x(d[0])).attr("cy", d => y(d[1])).attr("r", 1.35).attr("fill", "#bcbcbc");
  g.selectAll(".down").data(cfg.down).join("circle").attr("cx", d => x(d[0])).attr("cy", d => y(d[1])).attr("r", 1.8).attr("fill", "#187a1c");
  g.selectAll(".up").data(cfg.up).join("circle").attr("cx", d => x(d[0])).attr("cy", d => y(d[1])).attr("r", 1.75).attr("fill", "#c8161d");

  const dash = "2.5,1.5";
  g.append("line").attr("x1", x0).attr("x2", x1).attr("y1", y(1.3)).attr("y2", y(1.3)).attr("stroke", "#555").attr("stroke-width", .7).attr("stroke-dasharray", dash);
  g.append("line").attr("x1", x(0)).attr("x2", x(0)).attr("y1", y0).attr("y2", y1).attr("stroke", "#555").attr("stroke-width", .7).attr("stroke-dasharray", dash);
  g.append("rect").attr("x", x0).attr("y", y0).attr("width", x1 - x0).attr("height", y1 - y0).attr("fill", "none").attr("stroke", "#b5b5b5").attr("stroke-width", 1);

  g.append("g").attr("transform", `translate(0,${y1})`)
    .call(d3.axisBottom(x).tickValues(cfg.xTicks).tickSize(1.5).tickPadding(1)).call(a => styleAxis(a, 4.6));
  g.append("g").attr("transform", `translate(${x0},0)`)
    .call(d3.axisLeft(y).tickValues(cfg.yTicks).tickSize(1.5).tickPadding(1).tickFormat(d3.format("d"))).call(a => styleAxis(a, 4.6));

  subLabel(g, (x0 + x1) / 2 - 1, y1 + 13.5, "Log", "2", "(Fold Change)", 6.7, false);
  subLabel(g, 7, (y0 + y1) / 2 + 2, "− Log", "10", "(P-value)", 6.7, true);

  // legend
  const lx = 219, ly = cfg.legendY;
  addText(g, lx, ly, "Statistics", 6.6);
  [["#c8161d", "Up: " + cfg.nUp], ["#187a1c", "Down: " + cfg.nDown], ["#bdbdbd", "Insignificant: " + cfg.nIns]].forEach((d, i) => {
    const yy = ly + 10 + i * 7.6;
    g.append("circle").attr("cx", lx + 3).attr("cy", yy).attr("r", 1).attr("fill", d[0]);
    addText(g, lx + 10.7, yy, d[1], 6.6);
  });
  const vy = ly + 41.5;
  addText(g, lx, vy, "VIP", 6.6);
  cfg.vip.forEach((d, i) => {
    const yy = vy + 10 + i * 7.8;
    g.append("circle").attr("cx", lx + 3).attr("cy", yy).attr("r", .7 + i * .4).attr("fill", "#222");
    addText(g, lx + 10.7, yy, d, 6.6);
  });
}

// draws a bracket tree: leafPos(units) -> px along the leaves, heightPos(h) -> px across
function dendro(tree, leafPos, heightPos, horizontal, color) {
  const g = svg.append("g");
  const root = d3.hierarchy(tree, d => Array.isArray(d) ? d.slice(1) : null);
  let off = 0;
  root.eachAfter(n => {
    if (!n.children) {
      const span = tree.byIndex ? 1 : n.data;
      n.pos = off + span / 2; off += span;
      n.h = 0;
    } else {
      n.pos = (n.children[0].pos + n.children[n.children.length - 1].pos) / 2;
      n.h = n.data[0];
    }
  });
  let d = "";
  root.each(n => {
    if (!n.children) return;
    const [a, b] = [n.children[0], n.children[n.children.length - 1]];
    const hh = heightPos(n.h), pa = leafPos(a.pos), pb = leafPos(b.pos);
    if (horizontal) d += `M${pa},${heightPos(a.h)}V${hh}H${pb}V${heightPos(b.h)}`;
    else d += `M${heightPos(a.h)},${pa}H${hh}V${pb}H${heightPos(b.h)}`;
  });
  g.append("path").attr("d", d).attr("fill", "none").attr("stroke", color || "#8a8a8a").attr("stroke-width", .55);
  return root;
}

// ---- A
panelLetter("A", 2, 12);
volcano({
  xDomain: [-6.3, 12.2], xRange: [17, 212], yDomain: [-.2, 4.68], yRange: [169, 1],
  xTicks: [-4,-2,-1,0,1,2,4,8], yTicks: [0,1,2,3,4], yMinor: .5,
  up: upA.concat(upA2), down: downA, grey: greyA, greyRows: greyRowsA,
  nUp: 381, nDown: 178, nIns: 1423, legendY: 51.7, vip: ["0.5","1.0","1.5"]
});

// ---- B
panelLetter("B", 2, 235);
volcano({
  xDomain: [-9.4, 5.7], xRange: [17, 212], yDomain: [-.27, 5.87], yRange: [394, 226],
  xTicks: [-8,-4,-2,-1,0,1,2,4], yTicks: [0,2,4], yMinor: 1,
  up: upB, down: downB, grey: greyB, greyRows: greyRowsB,
  nUp: 136, nDown: 296, nIns: 1550, legendY: 272, vip: ["0.5","1.0","1.5","2.0"]
});

// ---- C
(function () {
  panelLetter("C", 388, 17);
  const g = svg.append("g");
  const x = d3.scaleLinear().domain([-69.7, 118.7]).range([412.3, 649.3]);
  const y = d3.scaleLinear().domain([-74.8, 92.9]).range([173.3, 9]);
  addText(g, 531, 4, "2D PCA Plot", 5.9, { anchor: "middle" });
  const xTicks = [-50,0,50,100], yTicks = [-50,0,50];
  [-50,-25,0,25,50,75,100].forEach(v => g.append("line").attr("x1", x(v)).attr("x2", x(v)).attr("y1", 9).attr("y2", 173.3).attr("stroke", "#efefef").attr("stroke-width", .5));
  [-50,-25,0,25,50,75].forEach(v => g.append("line").attr("x1", 412.3).attr("x2", 649.3).attr("y1", y(v)).attr("y2", y(v)).attr("stroke", "#efefef").attr("stroke-width", .5));

  const line = d3.line().x(d => x(d[0])).y(d => y(d[1]));
  const ell = e => {
    const [cx, cy, sx, sy, rho] = e;
    return d3.range(0, 2 * Math.PI + .05, .05).map(t => [cx + sx * Math.cos(t), cy + sy * (rho * Math.cos(t) + Math.sqrt(1 - rho * rho) * Math.sin(t))]);
  };
  [[ellipseLOP, 1, .24], [ellipseCTR, 0, .28], [ellipseBTV, 2, .28]].forEach(d =>
    g.append("path").attr("d", line(ell(d[0])) + "Z").attr("fill", groupColors[d[1]]).attr("fill-opacity", d[2]));

  const groupIdx = s => pcaGroups.indexOf(s.slice(0, 3));
  // label offsets in px from each point
  const labelDx = { LOP1: -8, LOP2: 8, LOP3: -8, LOP4: 9, LOP5: -8, LOP6: 7, CTR1: -8, CTR2: -10, CTR3: -6, CTR4: 7, CTR5: -8, CTR6: 2, BTV1: 8, BTV2: -35, BTV3: 16, BTV4: 8, BTV5: 9, BTV6: -19 };
  const labelDy = { LOP1: 5.5, LOP2: -6, LOP3: 5.5, LOP4: 2, LOP5: 5.5, LOP6: 5.5, CTR1: -6, CTR2: -2, CTR3: -6, CTR4: -5, CTR5: 5.5, CTR6: 11, BTV1: 5.5, BTV2: -8, BTV3: 20, BTV4: -6, BTV5: -5, BTV6: -1 };
  pcaSamples.forEach((s, i) => {
    const c = groupColors[groupIdx(s)];
    g.append("circle").attr("cx", x(pc1[i])).attr("cy", y(pc2[i])).attr("r", 2.2).attr("fill", c).attr("fill-opacity", .35);
    g.append("circle").attr("cx", x(pc1[i])).attr("cy", y(pc2[i])).attr("r", 1.3).attr("fill", c);
    addText(g, x(pc1[i]) + labelDx[s], y(pc2[i]) + labelDy[s], s, 4, { fill: c, anchor: "middle" });
  });
  g.append("rect").attr("x", 412.3).attr("y", 9).attr("width", 237).attr("height", 164.3).attr("fill", "none").attr("stroke", "#a8a8a8").attr("stroke-width", 1);
  g.append("g").attr("transform", "translate(0,173.3)").call(d3.axisBottom(x).tickValues(xTicks).tickSize(1.2).tickPadding(1)).call(a => styleAxis(a, 3.3));
  g.append("g").attr("transform", "translate(412.3,0)").call(d3.axisLeft(y).tickValues(yTicks).tickSize(1.2).tickPadding(1)).call(a => styleAxis(a, 3.3));
  addText(g, 531, 182, "PC1 (24.61%)", 4.8, { anchor: "middle" });
  g.append("text").attr("font-size", 4.8).attr("fill", txtCol).attr("text-anchor", "middle").attr("transform", "translate(402,92) rotate(-90)").text("PC2 (14.86%)");
  addText(g, 657, 79, "Group", 4.8);
  pcaGroups.forEach((s, i) => {
    const yy = 87.3 + i * 7.7;
    g.append("circle").attr("cx", 660.3).attr("cy", yy).attr("r", 2.2).attr("fill", groupColors[i]).attr("fill-opacity", .35);
    g.append("circle").attr("cx", 660.3).attr("cy", yy).attr("r", 1.2).attr("fill", groupColors[i]);
    addText(g, 666.7, yy, s, 4);
  });
})();

// ---- D
const heatColor = d3.scaleSequential(t => d3.interpolateRdYlGn(1 - t)).domain([-4, 4]);
(function () {
  panelLetter("D", 312, 238);
  const g = svg.append("g").attr("shape-rendering", "crispEdges");
  const t = svg.append("g");
  const x = d3.scaleBand().domain(heatSamples).range([362, 648]);
  const y = d3.scaleBand().domain(d3.range(heatRows.length)).range([242, 588]);
  heatRows.forEach((row, r) => row.forEach((v, c) =>
    g.append("rect").attr("x", x(heatSamples[c])).attr("y", y(r)).attr("width", x.bandwidth() + .5).attr("height", y.bandwidth() + .5).attr("fill", heatColor(v))));
  heatSamples.forEach(s => {
    g.append("rect").attr("x", x(s)).attr("y", 235).attr("width", x.bandwidth() + .5).attr("height", 5).attr("fill", groupColors[pcaGroups.indexOf(s.slice(0, 3))]);
    t.append("text").text(s).attr("font-size", 5.6).attr("fill", txtCol)
      .attr("transform", `translate(${x(s) + x.bandwidth() / 2 - 1},${590}) rotate(45)`).attr("dominant-baseline", "hanging");
  });
  // row dendrogram, leaves are grey blocks
  const leaf = d3.scaleLinear().domain([0, heatRows.length]).range([242, 588]);
  const hs = d3.scaleLinear().domain([0, 46]).range([361, 315]);
  const root = dendro(heatTree, leaf, hs, false);
  root.leaves().forEach(n => {
    const mid = n.pos, half = n.data / 2;
    t.append("rect").attr("x", 351).attr("width", 10.5).attr("y", leaf(mid - half)).attr("height", leaf(mid + half) - leaf(mid - half)).attr("fill", "#9a9a9a");
  });
  addText(t, 651, 237.7, "Group", 5, {});
  addText(t, 653, 244.5, "Z-score", 4.6, {});
  const grad = defs.append("linearGradient").attr("id", "zgrad").attr("x1", 0).attr("x2", 0).attr("y1", 1).attr("y2", 0);
  d3.range(0, 1.01, .1).forEach(v => grad.append("stop").attr("offset", v).attr("stop-color", heatColor(-4 + 8 * v)));
  t.append("rect").attr("x", 652.7).attr("y", 251).attr("width", 10).attr("height", 114).attr("fill", "url(#zgrad)");
  const zs = d3.scaleLinear().domain([-4, 4]).range([363, 253.3]);
  [4,2,0,-2,-4].forEach(v => addText(t, 664.5, zs(v), v, 4.2));
  addText(t, 685.7, 244.3, "Group", 5);
  pcaGroups.forEach((s, i) => {
    t.append("rect").attr("x", 686).attr("y", 251.5 + i * 9.2).attr("width", 9).attr("height", 8.8).attr("fill", groupColors[i]);
    addText(t, 697, 256 + i * 9.2, s, 4);
  });
})();

// ---- E
(function () {
  panelLetter("E", 5, 466);
  const g = svg.append("g");
  const x = d3.scaleLinear().domain([.4, 1]).range([141, 251.7]);
  const y = d3.scalePoint().domain(pathways).range([462.7, 612.7]);
  const r = d3.scaleLinear().domain([1, 11]).range([.7, 3.6]);
  const p = d3.scaleLinear().domain(pTicks).range(["#f01000", "#ff8a20", "#58e040", "#28c8f0", "#a868f0"]);
  g.append("rect").attr("x", 122.3).attr("y", 458.3).attr("width", 135).attr("height", 159.4).attr("fill", "none").attr("stroke", "#a5a5a5").attr("stroke-width", 1);
  pathways.forEach((s, i) => {
    g.append("circle").attr("cx", x(richFactor[i])).attr("cy", y(s)).attr("r", r(pathCount[i])).attr("fill", p(pathP[i]));
  });
  g.append("g").attr("transform", "translate(122.3,0)").call(d3.axisLeft(y).tickSize(1.5).tickPadding(1)).call(a => styleAxis(a, 4.3));
  g.append("g").attr("transform", "translate(0,617.7)").call(d3.axisBottom(x).tickValues([.4,.6,.8,1]).tickFormat(d3.format(".1f")).tickSize(1.2).tickPadding(.5)).call(a => styleAxis(a, 3.3));
  addText(g, 190, 627.3, "Rich Factor", 5.7, { anchor: "middle" });
  addText(g, 266, 480.5, "P-value", 5.3);
  const grad = defs.append("linearGradient").attr("id", "pgrad").attr("x1", 0).attr("x2", 0).attr("y1", 1).attr("y2", 0);
  pTicks.forEach(t => grad.append("stop").attr("offset", t).attr("stop-color", p(t)));
  g.append("rect").attr("x", 266).attr("y", 485).attr("width", 8).attr("height", 44).attr("fill", "url(#pgrad)");
  const ps = d3.scaleLinear().domain([0, 1]).range([527.7, 486.7]);
  pTicks.forEach(t => addText(g, 276.5, ps(t), d3.format(".2f")(t), 3.4));
  addText(g, 266, 541.5, "Count", 5.3);
  countTicks.forEach((c, i) => {
    const yy = 551 + i * 8.45;
    g.append("circle").attr("cx", 270).attr("cy", yy).attr("r", r(c)).attr("fill", "#111");
    addText(g, 277, yy, c, 3.4);
  });
})();

// ---- F
(function () {
  panelLetter("F", 55, 683);
  const g = svg.append("g").attr("shape-rendering", "crispEdges");
  const t = svg.append("g");
  const fColor = d3.scaleSequential(v => d3.interpolateRdYlGn(1 - v)).domain([-3.3, 3.3]);
  const x = d3.scaleBand().domain(d3.range(18)).range([86.7, 516.7]);
  const y = d3.scaleBand().domain(d3.range(7)).range([700.7, 898]);
  metaRows.forEach((row, r) => row.forEach((v, c) =>
    g.append("rect").attr("x", x(c)).attr("y", y(r)).attr("width", x.bandwidth() + .5).attr("height", y.bandwidth() + .5).attr("fill", fColor(v))));
  metaSamples.forEach((s, c) => {
    g.append("rect").attr("x", x(c)).attr("y", 695.3).attr("width", x.bandwidth() + .5).attr("height", 4.7).attr("fill", groupColors[pcaGroups.indexOf(s.slice(0, 3))]);
    t.append("text").text(s).attr("font-size", 3.6).attr("fill", txtCol).attr("text-anchor", "end")
      .attr("transform", `translate(${x(c) + x.bandwidth() / 2 + 1},${900}) rotate(-45)`).attr("dominant-baseline", "hanging");
  });
  t.append("text").text("Class").attr("font-size", 3.6).attr("font-weight", "bold").attr("fill", "#222").attr("text-anchor", "end")
    .attr("transform", "translate(85,900) rotate(-45)").attr("dominant-baseline", "hanging");
  metabolites.forEach((s, r) => {
    g.append("rect").attr("x", 81.7).attr("y", y(r)).attr("width", 4).attr("height", y.bandwidth() + .5).attr("fill", classColors[metaClass[r]]);
    addText(t, 518, y(r) + y.bandwidth() / 2, s, 4.2, { fill: "#444" });
  });
  addText(t, 518, 697.6, "Group", 3.9, { bold: true, fill: "#222" });

  // dendrograms, leaf units are whole columns / rows
  const colTree = metaColTree.slice(); colTree.byIndex = true;
  const rowTree = metaRowTree.slice(); rowTree.byIndex = true;
  const colLeaf = d3.scaleLinear().domain([0, 18]).range([86.7, 516.7]);
  const rowLeaf = d3.scaleLinear().domain([0, 7]).range([700.7, 898]);
  dendro(colTree, colLeaf, d3.scaleLinear().domain([0, 22]).range([695, 673.3]), true, "#777");
  dendro(rowTree, rowLeaf, d3.scaleLinear().domain([0, 22]).range([81.5, 59.3]), false, "#777");

  // legend
  const grad = defs.append("linearGradient").attr("id", "fgrad").attr("x1", 0).attr("x2", 0).attr("y1", 1).attr("y2", 0);
  d3.range(0, 1.01, .1).forEach(v => grad.append("stop").attr("offset", v).attr("stop-color", fColor(-3.3 + 6.6 * v)));
  t.append("rect").attr("x", 600).attr("y", 695).attr("width", 4.3).attr("height", 62.3).attr("fill", "url(#fgrad)");
  const ls = d3.scaleLinear().domain([-3, 3]).range([753.7, 698.7]);
  [3,2,1,0,-1,-2,-3].forEach(v => addText(t, 606, ls(v), v, 3.2));
  addText(t, 612, 696.7, "Group", 3.7, { bold: true, fill: "#222" });
  pcaGroups.forEach((s, i) => {
    t.append("rect").attr("x", 612).attr("y", 699.7 + i * 6).attr("width", 6).attr("height", 5.8).attr("fill", groupColors[i]);
    addText(t, 619, 702.7 + i * 6, s, 3.9);
  });
  addText(t, 612, 723.7, "Class", 3.7, { bold: true, fill: "#222" });
  classNames.forEach((s, i) => {
    t.append("rect").attr("x", 612).attr("y", 726.3 + i * 6.2).attr("width", 6).attr("height", 6).attr("fill", classColors[i]);
    addText(t, 619, 729.5 + i * 6.2, s, 4);
  });
})();
</script>
</body>
</html>
